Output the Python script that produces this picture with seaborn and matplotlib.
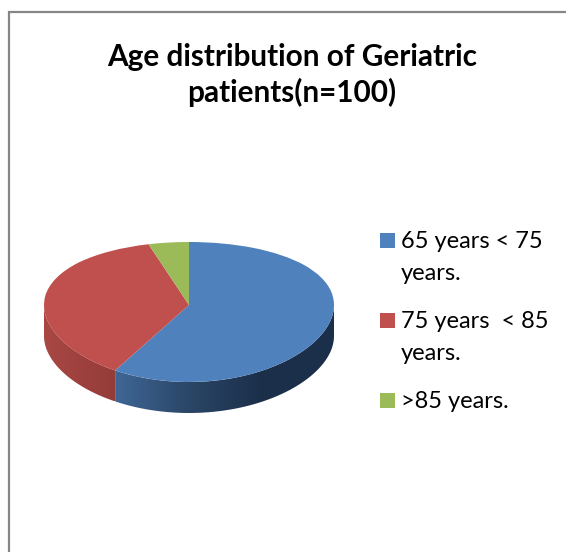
import numpy as np
import matplotlib
matplotlib.use('Agg')
import matplotlib.pyplot as plt
from matplotlib.colors import LinearSegmentedColormap
from matplotlib.patches import Polygon, Rectangle
from matplotlib.transforms import Transform
import seaborn as sns

# Data
title = 'Age distribution of Geriatric\npatients(n=100)'
labels = ['65 years < 75\nyears.', '75 years  < 85\nyears.', '>85 years.']
values = [58.5, 37, 4.5]
colors = ['#4F81BD', '#C0504D', '#9BBB59']
wall_colors = [['#3F6796', '#2B4667', '#1B2F4A', '#1B2F4A'], ['#A94744', '#943C39'], ['#7C9647', '#7C9647']]

# Layout, in pixels of the 566x552 picture
CX, CY, RX, RY, BEND, DEPTH = 189, 305, 145, 70, 7, 31


class Tilt(Transform):
    # unit pie -> tilted pie, the far half looks flatter than the near one
    input_dims = output_dims = 2

    def transform_non_affine(self, xy):
        xy = np.asarray(xy, dtype=float)
        return np.column_stack([
            CX + RX * xy[:, 0],
            CY - RY * xy[:, 1] + BEND * xy[:, 1] ** 2,
        ])


sns.set_theme(style='white')
plt.rcParams['font.family'] = ['Lato', 'DejaVu Sans']

fig = plt.figure(figsize=(5.66, 5.52), dpi=100)
ax = fig.add_axes([0, 0, 1, 1])

# Top of the pie
wedges, _ = ax.pie(values, colors=colors, startangle=90, counterclock=False,
                   wedgeprops={'linewidth': 0})
ax.set_aspect('auto')
ax.axis('off')
for w in wedges:
    w.set_transform(Tilt() + ax.transData)
    w.set_zorder(3)

# Side wall of the pie, only the part facing the viewer
edges = np.concatenate([[0], np.cumsum(values)]) / sum(values) * 360
tilt = Tilt()
for start, end, cols in zip(edges[:-1], edges[1:], wall_colors):
    lo, hi = max(start, 90), min(end, 270)
    if lo >= hi:
        continue
    th = np.radians(np.linspace(lo, hi, 120))
    rim = tilt.transform_non_affine(np.column_stack([np.sin(th), np.cos(th)]))
    poly = Polygon(np.vstack([rim, (rim + [0, DEPTH])[::-1]]), closed=True,
                   fc='none', ec='none', transform=ax.transData)
    ax.add_patch(poly)
    # gradient runs left to right across the whole slice
    im = ax.imshow(np.linspace(0, 1, 256)[None, :],
                   cmap=LinearSegmentedColormap.from_list('wall', cols),
                   extent=[rim[:, 0].min(), rim[:, 0].max(), rim[:, 1].max() + DEPTH, rim[:, 1].min()],
                   aspect='auto', zorder=2, vmin=0, vmax=1)
    im.set_clip_path(poly)
ax.set_xlim(0, 566)
ax.set_ylim(552, 0)

# Chart frame, cut off by the picture on the right and at the bottom
ax.plot([8.5, 8.5, 566], [552, 11.5, 11.5], color='#868686', lw=1.6, solid_joinstyle='miter')

ax.text(292, 75, title, ha='center', va='center', fontsize=21.4, fontweight='bold',
        color='black', linespacing=1.28)

# Legend
for label, color, y in zip(labels, colors, [240, 320, 400]):
    ax.add_patch(Rectangle((380, y - 7.5), 15, 15, fc=color, ec='none'))
    lines = label.split('\n')
    ax.text(401, y + 2, lines[0], ha='left', va='center', fontsize=17, color='black')
    if len(lines) > 1:
        ax.text(401, y + 34, lines[1], ha='left', va='center', fontsize=17, color='black')

fig.savefig('out.png', dpi=100)
